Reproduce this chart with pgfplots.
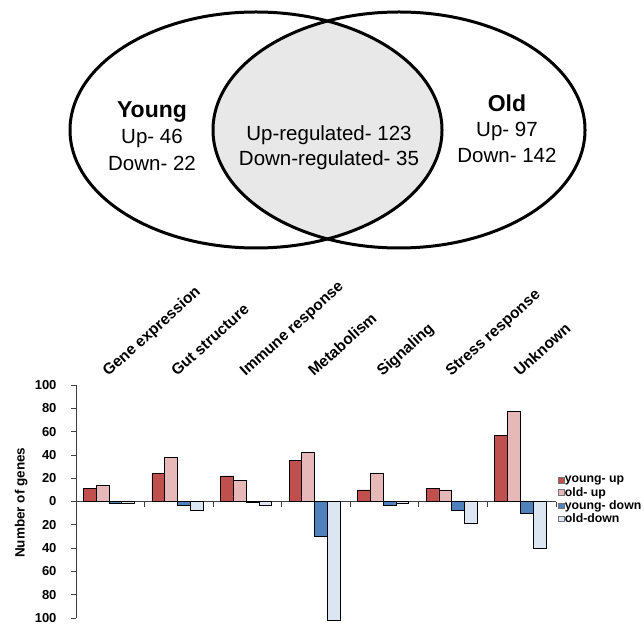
\documentclass[border=0pt]{standalone}
\usepackage{pgfplots}
\pgfplotsset{compat=1.18}
\usepackage{fontspec}
\setmainfont{Liberation Sans}
\definecolor{youngup}{RGB}{192,80,77}
\definecolor{oldup}{RGB}{230,185,184}
\definecolor{youngdown}{RGB}{79,129,189}
\definecolor{olddown}{RGB}{220,230,242}
\definecolor{venngray}{RGB}{232,232,232}

\begin{document}
\begin{tikzpicture}[x=1pt,y=1pt]
\useasboundingbox (0pt,0pt) rectangle (644pt,630pt);
% ---------------- Venn diagram ----------------
\begin{axis}[at={(0pt,0pt)}, anchor=south west, scale only axis,
  width=644pt, height=630pt, xmin=0, xmax=644, ymin=0, ymax=630,
  hide axis, clip=false]
\pgfplotsextra{
  \begin{scope}
  \clip (axis cs:256,500) ellipse [x radius=186, y radius=118];
  \fill[venngray] (axis cs:399,500) ellipse [x radius=186, y radius=118];
  \end{scope}
}
\draw[line width=3pt] (axis cs:256,500) ellipse [x radius=186, y radius=118];
\draw[line width=3pt] (axis cs:399,500) ellipse [x radius=186, y radius=118];
\node[font=\bfseries\fontsize{23}{27}\selectfont] at (axis cs:152,518) {Young};
\node[font=\fontsize{20.5}{24}\selectfont] at (axis cs:152,492) {Up- 46};
\node[font=\fontsize{20.5}{24}\selectfont] at (axis cs:152,467) {Down- 22};
\node[font=\fontsize{20.5}{24}\selectfont] at (axis cs:329,495) {Up-regulated- 123};
\node[font=\fontsize{20.5}{24}\selectfont] at (axis cs:329,470) {Down-regulated- 35};
\node[font=\bfseries\fontsize{23}{27}\selectfont] at (axis cs:507,527) {Old};
\node[font=\fontsize{20.5}{24}\selectfont] at (axis cs:507,499) {Up- 97};
\node[font=\fontsize{20.5}{24}\selectfont] at (axis cs:507,475) {Down- 142};
\end{axis}
% ---------------- Bar chart ----------------
\begin{axis}[at={(76pt,12pt)}, anchor=south west, scale only axis,
  width=480pt, height=233pt, xmin=0, xmax=7, ymin=-100, ymax=100,
  axis x line=middle, axis y line=left,
  axis line style={-, line width=0.8pt, black!75},
  ybar, bar width=12.8pt,
  xtick={1,2,3,4,5,6,7}, xticklabels={},
  ytick={-100,-80,-60,-40,-20,0,20,40,60,80,100},
  yticklabels={100,80,60,40,20,0,20,40,60,80,100},
  tick align=outside, major tick length=5pt,
  tick style={black!75, line width=0.8pt},
  yticklabel style={font=\bfseries\fontsize{13}{15}\selectfont, xshift=-11pt},
  ylabel={Number of genes},
  every axis y label/.style={at={(axis description cs:-0.114,0.495)}, rotate=90, anchor=center, font=\bfseries\fontsize{13.5}{15}\selectfont},
  legend style={at={(axis description cs:1.004,0.612)}, anchor=north west, draw=none, fill=none,
    font=\bfseries\fontsize{12.3}{13}\selectfont, row sep=1.6pt, inner sep=0pt, nodes={inner sep=0.6pt}},
  legend cell align=left,
  legend image code/.code={\draw[#1, draw=black!55, line width=0.5pt] (0pt,-2.8pt) rectangle (5.6pt,2.8pt);},
  clip=false]
\addplot[fill=youngup, draw=black, line width=0.7pt, bar shift=-19.2pt] coordinates
  {(0.48,11) (1.48,24) (2.48,22) (3.48,35) (4.48,10) (5.48,11) (6.48,57)};
\addplot[fill=oldup, draw=black, line width=0.7pt, bar shift=-6.4pt] coordinates
  {(0.48,14) (1.48,38) (2.48,18) (3.48,42) (4.48,24) (5.48,10) (6.48,77)};
\addplot[fill=youngdown, draw=black, line width=0.7pt, bar shift=6.4pt] coordinates
  {(0.48,-2) (1.48,-3) (2.48,-1) (3.48,-30) (4.48,-3) (5.48,-8) (6.48,-10)};
\addplot[fill=olddown, draw=black, line width=0.7pt, bar shift=19.2pt] coordinates
  {(0.48,-2) (1.48,-8) (2.48,-3) (3.48,-102) (4.48,-2) (5.48,-19) (6.48,-40)};
\legend{young- up, old- up, young- down, old-down}
\end{axis}
% ---------------- Category labels ----------------
\begin{axis}[at={(76pt,12pt)}, anchor=south west, scale only axis,
  width=480pt, height=233pt, xmin=0, xmax=7, ymin=-100, ymax=100,
  hide y axis, axis x line*=top, x axis line style={draw=none},
  xtick={0.5,1.5,2.5,3.5,4.5,5.5,6.5},
  xticklabels={Gene expression, Gut structure, Immune response, Metabolism, Signaling, Stress response, Unknown},
  major tick length=0pt, xtick style={draw=none},
  xticklabel style={xshift=-2pt, yshift=8pt, rotate=42, anchor=base west, inner sep=0pt,
    font=\bfseries\fontsize{15.5}{17}\selectfont}]
\addplot[draw=none] coordinates {(0,0)};
\end{axis}
\end{tikzpicture}
\end{document}
